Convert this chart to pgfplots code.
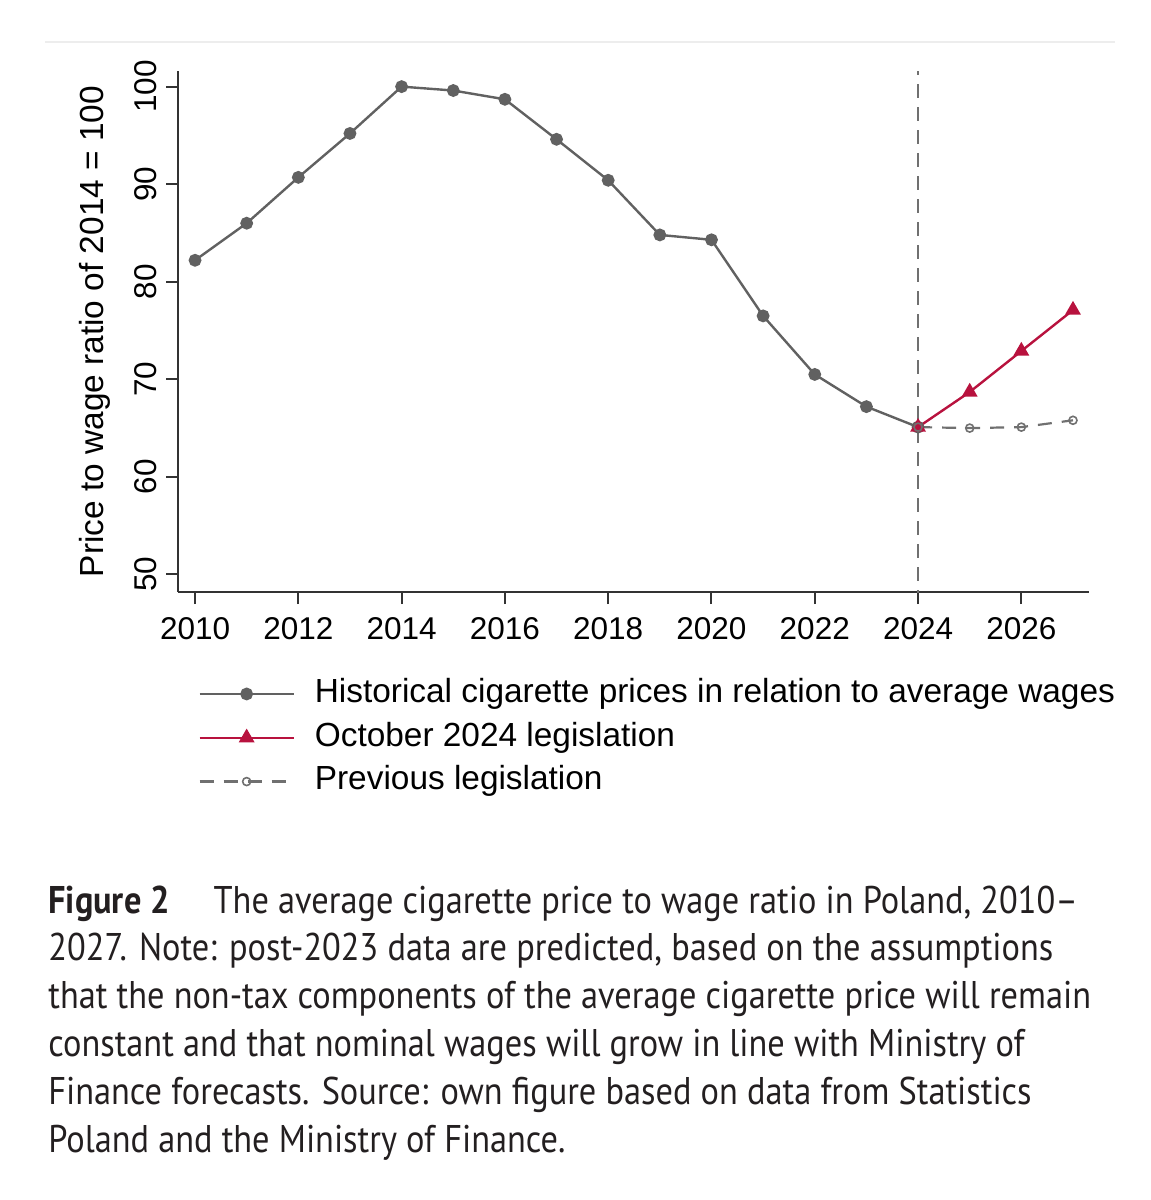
\documentclass[border=0pt]{standalone}
\usepackage{fontspec}
\setmainfont{Liberation Sans}
\newfontfamily\capfont[FakeStretch=0.89]{PT Sans}
\usepackage{pgfplots}
\pgfplotsset{compat=1.18}
\definecolor{histgray}{HTML}{616161}
\definecolor{legred}{HTML}{B8123E}
\definecolor{prevgray}{HTML}{707070}
\definecolor{axisgray}{HTML}{333333}
\definecolor{captext}{HTML}{231F20}
\begin{document}
\begin{tikzpicture}
\path[use as bounding box] (0,0) rectangle (575.5pt,-600pt);
\draw[black!7, line width=0.8pt] (22.5pt,-21pt) -- (557.5pt,-21pt);
\begin{axis}[
  at={(89pt,-296pt)}, anchor=south west,
  width=455.5pt, height=260.5pt, scale only axis,
  xmin=2009.67, xmax=2027.31, ymin=48.2, ymax=101.6,
  axis lines*=left,
  axis line style={axisgray, line width=1pt},
  xtick={2010,2012,2014,2016,2018,2020,2022,2024,2026},
  xticklabels={2010,2012,2014,2016,2018,2020,2022,2024,2026},
  ytick={50,60,70,80,90,100},
  yticklabels={50,60,70,80,90,100},
  tick align=outside, major tick length=6pt,
  tick style={axisgray, line width=1pt},
  tick label style={font=\fontsize{15.75}{18}\selectfont, text=black},
  xticklabel style={anchor=north, inner sep=0pt},
  xticklabel shift=6.5pt,
  yticklabel style={rotate=90, anchor=base, inner sep=0pt},
  yticklabel shift=5pt,
  ylabel={Price to wage ratio of 2014 = 100},
  ylabel style={at={(axis description cs:-0.0735,0.5)}, anchor=south, inner sep=0pt, font=\fontsize{16.7}{19}\selectfont},
  legend style={at={(axis description cs:0.022,-0.165)}, anchor=north west, draw=none, fill=none,
    font=\fontsize{16.7}{19}\selectfont, row sep=6.3pt, inner sep=0pt,
    nodes={inner sep=0pt, text height=12pt, text depth=3.6pt},
    /tikz/every odd column/.append style={column sep=10pt}},
  legend cell align=left,
  legend image code/.code={\draw[mark repeat=2,mark phase=2,#1] plot coordinates {(0pt,0pt) (23.5pt,0pt) (47pt,0pt)};},
]
\addplot[forget plot, prevgray, line width=0.9pt, dash pattern=on 7pt off 4.5pt] coordinates {(2024,47.0) (2024,101.6)};
\addplot[histgray, line width=1.2pt, mark=*, mark size=2.6pt, mark options={solid, fill=histgray, draw=histgray}] coordinates {
(2010,82.2) (2011,86.0) (2012,90.7) (2013,95.2) (2014,100.0) (2015,99.6) (2016,98.7) (2017,94.6)
(2018,90.4) (2019,84.8) (2020,84.3) (2021,76.5) (2022,70.5) (2023,67.2) (2024,65.1)};
\addlegendentry{Historical cigarette prices in relation to average wages}
\addplot[legred, line width=1.2pt, mark=triangle*, mark size=3.4pt, mark options={solid, fill=legred, draw=legred}] coordinates {
(2024,65.1) (2025,68.7) (2026,72.9) (2027,77.1)};
\addlegendentry{October 2024 legislation}
\addplot[prevgray, line width=1.1pt, dash pattern=on 7pt off 5pt, mark=o, mark size=2pt, mark options={solid, line width=0.8pt}] coordinates {
(2024,65.1) (2025,65.0) (2026,65.1) (2027,65.8)};
\addlegendentry{Previous legislation}
\end{axis}
\node[anchor=base west, align=left, inner sep=0pt, text=captext,
  font=\capfont\fontsize{19.3}{23.9}\selectfont] at (24pt,-576pt)
{{\bfseries Figure 2}\hspace{22pt}The average cigarette price to wage ratio in Poland, 2010–\\
2027. Note: post-2023 data are predicted, based on the assumptions\\
that the non-tax components of the average cigarette price will remain\\
constant and that nominal wages will grow in line with Ministry of\\
Finance forecasts. Source: own figure based on data from Statistics\\
Poland and the Ministry of Finance.};
\end{tikzpicture}
\end{document}
